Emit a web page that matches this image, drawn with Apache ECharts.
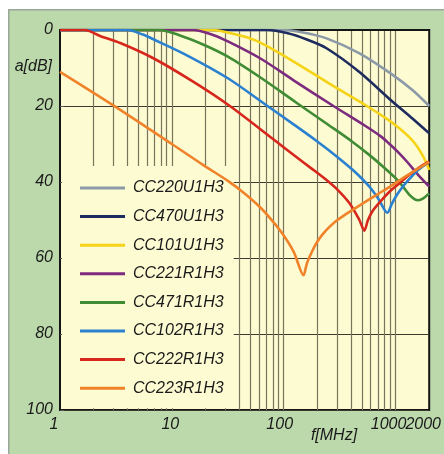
<!DOCTYPE html>
<html><head><meta charset="utf-8">
<script src="https://cdn.jsdelivr.net/npm/echarts@6.0.0/dist/echarts.min.js"></script>
<style>html,body{margin:0;padding:0;background:#fff}#c{width:444px;height:454px}</style>
</head><body><div id="c"></div>
<script>
// ---- data ----
const seriesNames = ['CC220U1H3','CC470U1H3','CC101U1H3','CC221R1H3','CC471R1H3','CC102R1H3','CC222R1H3','CC223R1H3'];
// [frequency MHz, attenuation dB]
const cc220u1h3 = [[1,0],[97,0],[145,0.6],[241.5,2.2],[472,6.1],[943,11.8],[1415,15.8],[2000,20]];
const cc470u1h3 = [[1,0],[71,0],[107,0.8],[161,2.5],[241.5,4.8],[472,11],[943,18.9],[1415,23.3],[2000,27.2]];
const cc101u1h3 = [[1,0],[23.3,0],[33,0.8],[47.5,2],[64.5,3.6],[126,8.5],[252,14],[567,20.2],[818,23.2],[1087,25.9],[1305,28],[1504,30],[1700,32.4],[1882,34.9],[2000,36.8]];
const cc221r1h3 = [[1,0],[15.5,0],[23.3,1.3],[31.7,3],[62,7.5],[123.5,13.3],[278.5,20],[534,25.2],[739,28],[869,29.8],[1043,32],[1279,34.8],[1599,38.2],[2000,41.2]];
const cc471r1h3 = [[1,0],[7.6,0],[11.5,1.3],[19,3.8],[31.7,7],[62,12.5],[131,19.2],[252,25],[402,29.2],[567,32.6],[770,35.9],[1002,39],[1179,41.4],[1332,43.4],[1474,44.5],[1599,44.8],[1770,44.3],[2000,43]];
const cc102r1h3 = [[1,0],[4,0],[5.5,1.2],[6.9,2.5],[13.5,6.6],[31.7,12.7],[68.5,19.6],[123.5,24.9],[197,29.2],[296,33.2],[418,36.9],[512,39.4],[603,41.7],[709,44.6],[846,48.1],[924,45.8],[1023,43.5],[1155,41.3],[1332,39.2],[1599,36.8],[2000,34.7]];
const cc222r1h3 = [[1,0],[1.66,0],[2.25,1.5],[3.5,3.5],[6.9,7.5],[15.5,13.6],[33,20],[82,28.9],[123,32.9],[184,36.8],[241.5,39.5],[302,42],[388,45.6],[475,50],[526,52.8],[567,50],[628,47.5],[739,45],[887,42.5],[1065,40.5],[1279,38.5],[1567,36.5],[2000,34.6]];
const cc223r1h3 = [[1,11],[2.95,19.7],[10,30],[19,35.5],[31.7,39.7],[44.7,43],[61.9,46.7],[80.6,50.5],[100.8,54.2],[123.5,58.5],[150.5,64.5],[160.9,61.5],[178,58.5],[197,56],[222.7,53.8],[256.7,51.8],[302,50],[362.7,48.4],[475,46.2],[667,43.5],[937,40.8],[1313,38],[2000,34.7]];
const seriesData = [cc220u1h3, cc470u1h3, cc101u1h3, cc221r1h3, cc471r1h3, cc102r1h3, cc222r1h3, cc223r1h3];
const xTickLabels = [1, 10, 100, 1000, 2000];
const yTicks = [0, 20, 40, 60, 80, 100];
const minorGridFreqs = [2,3,4,5,6,7,8,9,10,20,30,40,50,60,70,80,90,100,200,300,400,500,600,700,800,900,1000];

// ---- style ----
const colors = ['#8c9aa7','#1e2b5f','#f5d316','#7c2b7f','#3f8c34','#2b80d0','#d7261c','#f0822a'];
const FONT = '"Liberation Sans", Arial, sans-serif';
const cream = '#fdfbd2';
const labelShift = {1: 12, 10: 3, 100: 8, 1000: 14, 2000: 12};
const rich = {};
xTickLabels.forEach(v => { rich['t' + v] = {fontSize: 16, fontStyle: 'italic', fontFamily: FONT, color: '#1a1a1a', padding: [0, labelShift[v], 0, 0]}; });
const lastTick = xTickLabels[xTickLabels.length - 1];

const chart = echarts.init(document.getElementById('c'), null, {renderer: 'canvas'});
const series = seriesNames.map((n, i) => ({
  name: n, type: 'line', data: seriesData[i], showSymbol: false, smooth: 0.3,
  color: colors[i], lineStyle: {width: 2.6, color: colors[i]}, z: 2 + i * 0.01
}));
series.push({
  name: 'grid', type: 'line', data: [], silent: true, z: 0,
  markLine: {
    silent: true, symbol: 'none', z: 0, animation: false,
    label: {show: false},
    lineStyle: {color: '#7a745c', width: 1.2, type: 'solid'},
    emphasis: {disabled: true},
    data: minorGridFreqs.map(v => ({xAxis: v}))
  }
});

const baseX = {type: 'log', logBase: 10, min: xTickLabels[0], max: lastTick, position: 'bottom', offset: 0,
  axisTick: {show: false}, splitLine: {show: false}};

chart.setOption({
  animation: false,
  graphic: [
    {type: 'rect', left: 8, top: 9, z: -10, silent: true, shape: {width: 436, height: 445},
     style: {fill: '#bcd9ac', stroke: '#9aa69a', lineWidth: 1.5}},
    {type: 'text', x: 52, y: 67, z: 10, silent: true,
     style: {text: 'a[dB]', font: 'italic 16px ' + FONT, fill: '#1a1a1a', align: 'right', verticalAlign: 'middle', textAlign: 'right', textVerticalAlign: 'middle'}},
    {type: 'text', x: 334, y: 436, z: 10, silent: true,
     style: {text: 'f[MHz]', font: 'italic 16px ' + FONT, fill: '#1a1a1a', align: 'center', verticalAlign: 'middle', textAlign: 'center', textVerticalAlign: 'middle'}}
  ],
  grid: {left: 60, top: 30, right: 10, bottom: 44, show: true, backgroundColor: cream, borderColor: '#151515', borderWidth: 2},
  legend: {
    orient: 'vertical', left: 62, top: 166, padding: [13, 10, 11, 18],
    itemWidth: 45, itemHeight: 3, itemGap: 10.6, icon: 'rect',
    backgroundColor: cream, z: 1,
    textStyle: {fontSize: 16, fontStyle: 'italic', fontFamily: FONT, color: '#1a1a1a', lineHeight: 18, padding: [0, 0, 0, 3]},
    data: seriesNames, selectedMode: false
  },
  xAxis: [
    Object.assign({}, baseX, {
      axisLine: {show: true, lineStyle: {color: '#151515', width: 2}},
      axisLabel: {margin: 7, rich: rich, showMinLabel: true, showMaxLabel: false,
        formatter: v => (xTickLabels.includes(v) && v !== lastTick) ? '{t' + v + '|' + v + '}' : ''}
    }),
    Object.assign({}, baseX, {
      axisLine: {show: false},
      axisLabel: {margin: 7, rich: rich, showMinLabel: false, showMaxLabel: true,
        formatter: v => v === lastTick ? '{t' + v + '|' + v + '}' : ''}
    })
  ],
  yAxis: {
    type: 'value', inverse: true, min: yTicks[0], max: yTicks[yTicks.length - 1], interval: 20,
    axisLine: {show: true, lineStyle: {color: '#151515', width: 2}},
    axisTick: {show: true, inside: true, length: 4, lineStyle: {color: '#555'}},
    axisLabel: {margin: 7, fontSize: 16, fontStyle: 'italic', fontFamily: FONT, color: '#1a1a1a'},
    splitLine: {show: true, lineStyle: {color: '#3c3a30', width: 1}}
  },
  series: series
});
</script></body></html>
